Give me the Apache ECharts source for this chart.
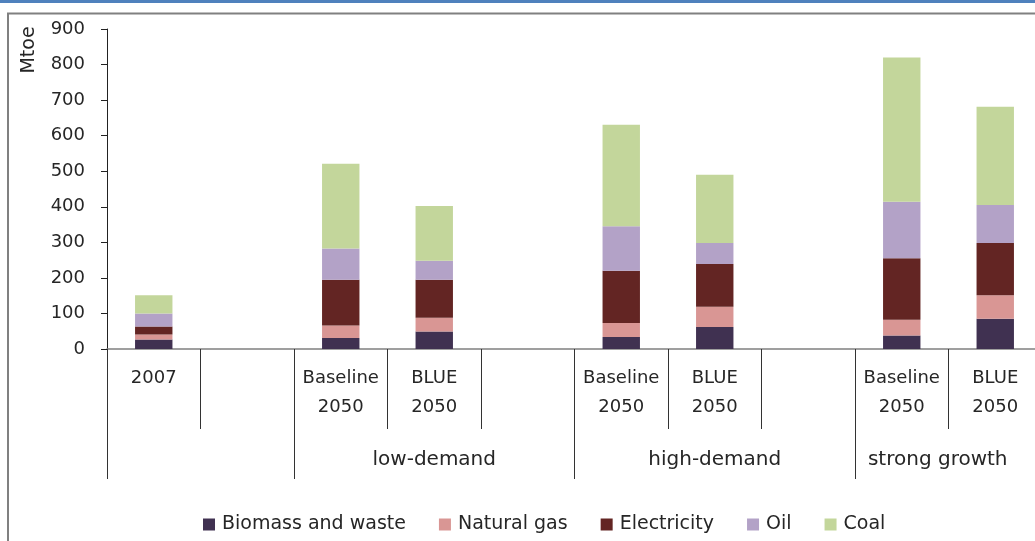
<!DOCTYPE html>
<html><head><meta charset="utf-8">
<script src="https://cdn.jsdelivr.net/npm/echarts@6/dist/echarts.min.js"></script>
<style>html,body{margin:0;padding:0;background:#fff}#c{width:1035px;height:541px}</style>
</head><body><div id="c"></div>
<script>
// ---- data ----
const categories = ['2007', '', 'Baseline\n2050', 'BLUE\n2050', '', 'Baseline\n2050', 'BLUE\n2050', '', 'Baseline\n2050', 'BLUE\n2050'];
const groupNames = ['', 'low-demand', 'high-demand', 'strong growth'];
const groupSpans = [2, 3, 3, 2];
const seriesNames = ['Biomass and waste', 'Natural gas', 'Electricity', 'Oil', 'Coal'];
const biomass = [27, null, 31, 49, null, 34, 62, null, 38, 85];
const naturalGas = [14, null, 35, 39, null, 39, 57, null, 44, 66];
const electricity = [22, null, 129, 107, null, 147, 120, null, 173, 147];
const oil = [37, null, 88, 53, null, 125, 59, null, 159, 107];
const coal = [51, null, 238, 154, null, 286, 192, null, 406, 276];
const yTicks = {min: 0, max: 900, interval: 100};

// ---- styles ----
const colors = ['#403151', '#d99694', '#632523', '#b3a2c7', '#c3d69b'];
const txt = '#262626';
const font = 'DejaVu Sans';

// group boundaries and label positions
const groupStarts = [];
const groupLabelAt = {};
let s = 0;
groupSpans.forEach((n, i) => {
  groupStarts.push(s);
  const mid = s + Math.floor((n - 1) / 2);
  groupLabelAt[mid] = {name: groupNames[i], even: n % 2 === 0};
  s += n;
});

const valuesList = [biomass, naturalGas, electricity, oil, coal];
const series = seriesNames.map((name, i) => ({
  name, type: 'bar', stack: 'total', barWidth: '40%',
  itemStyle: {color: colors[i]},
  data: valuesList[i]
}));

const chart = echarts.init(document.getElementById('c'), null, {renderer: 'canvas'});
chart.setOption({
  animation: false,
  backgroundColor: '#fff',
  grid: {left: 107, width: 935, top: 29, bottom: 192, containLabel: false, outerBoundsMode: 'none'},
  legend: {
    data: seriesNames, left: 203, top: 515, itemGap: 33, itemWidth: 12, itemHeight: 12,
    icon: 'rect', padding: 0,
    textStyle: {fontFamily: font, fontSize: 19, color: txt, padding: [0, 0, 0, 2]}
  },
  xAxis: [{
    type: 'category', data: categories, position: 'bottom',
    axisLine: {show: true, lineStyle: {color: '#808080', width: 1.5}},
    axisTick: {show: true, interval: 0, length: 80, lineStyle: {color: '#333', width: 1}},
    axisLabel: {interval: 0, margin: 15, fontFamily: font, fontSize: 18, color: txt, lineHeight: 29}
  }, {
    type: 'category', data: categories, position: 'bottom',
    axisLine: {show: false},
    axisTick: {show: true, length: 130, lineStyle: {color: '#333', width: 1},
      interval: (idx) => groupStarts.indexOf(idx) >= 0},
    axisLabel: {
      interval: 0, margin: 96, fontFamily: font, fontSize: 20, color: txt, lineHeight: 29,
      formatter: (v, idx) => {
        const g = groupLabelAt[idx];
        if (!g || !g.name) return '';
        return g.even ? '{sh|' + g.name + '}' : g.name;
      },
      rich: {sh: {fontFamily: font, fontSize: 20, color: txt, lineHeight: 29, padding: [0, 0, 0, 72]}}
    }
  }],
  yAxis: {
    type: 'value', min: yTicks.min, max: yTicks.max, interval: yTicks.interval,
    axisLine: {show: true, lineStyle: {color: '#222', width: 1}},
    axisTick: {show: true, length: 6, lineStyle: {color: '#222'}},
    splitLine: {show: false},
    axisLabel: {margin: 22, fontFamily: font, fontSize: 18, color: txt}
  },
  graphic: [
    {type: 'rect', silent: true, z: -1, shape: {x: 0, y: 0, width: 1035, height: 3}, style: {fill: '#4f81bd'}},
    {type: 'rect', silent: true, z: -1, shape: {x: 8, y: 13.5, width: 1200, height: 800}, style: {fill: 'none', stroke: '#808080', lineWidth: 2}},
    {type: 'text', silent: true, x: 29, y: 50, rotation: Math.PI / 2,
      style: {text: 'Mtoe', fontFamily: font, fontSize: 19, fill: txt, align: 'center', verticalAlign: 'middle'}}
  ],
  series
});
</script></body></html>
